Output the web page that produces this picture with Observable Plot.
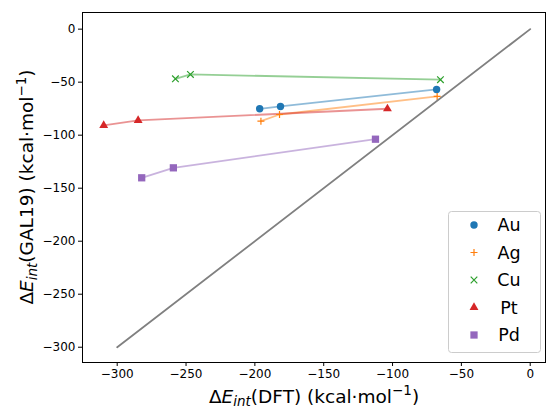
<!DOCTYPE html>
<html><head><meta charset="utf-8">
<script src="https://cdn.jsdelivr.net/npm/d3@7"></script>
<script src="https://cdn.jsdelivr.net/npm/@observablehq/plot@0.6"></script>
<style>body{margin:0;background:#fff} svg{display:block}</style>
</head><body><div id="chart"></div>
<script>
const metals = ["Au", "Ag", "Cu", "Pt", "Pd"];
const colors = ["#1f77b4", "#ff7f0e", "#2ca02c", "#d62728", "#9467bd"];
const symbols = ["circle", "plus", "times", "triangle", "square"];
const radii = [3.7, 2.4, 3.1, 3.3, 4.1];
const dftAu = [-196.5, -181.4, -68.0], galAu = [-75.1, -72.9, -56.9];
const dftAg = [-195.6, -182.1, -67.6], galAg = [-86.8, -80.5, -63.5];
const dftCu = [-257.7, -246.8, -65.2], galCu = [-46.8, -42.7, -47.7];
const dftPt = [-309.8, -284.8, -103.7], galPt = [-90.8, -86.1, -75.1];
const dftPd = [-282.2, -259.2, -112.4], galPd = [-140.2, -130.8, -103.8];
const diagX = [-300, 0], diagY = [-300, 0];
const xTicks = [-300, -250, -200, -150, -100, -50, 0];
const yTicks = [-300, -250, -200, -150, -100, -50, 0];

const dft = [dftAu, dftAg, dftCu, dftPt, dftPd];
const gal = [galAu, galAg, galCu, galPt, galPd];
const strokeSyms = new Set(["plus", "times"]);
const series = metals.map((m, i) => ({
  metal: m, color: colors[i], symbol: symbols[i], r: radii[i],
  data: dft[i].map((x, j) => ({metal: m, x, y: gal[i][j]}))
}));
const diag = diagX.map((x, i) => ({x, y: diagY[i]}));
const fmt = d3.format("d");

const marks = [
  ...series.map(s => Plot.line(s.data, {x: "x", y: "y", stroke: s.color, strokeOpacity: 0.5, strokeWidth: 1.8})),
  ...series.map(s => Plot.dot(s.data, strokeSyms.has(s.symbol)
      ? {x: "x", y: "y", symbol: s.symbol, r: s.r, stroke: s.color, fill: "none", strokeWidth: 1.2}
      : {x: "x", y: "y", symbol: s.symbol, r: s.r, fill: s.color, stroke: "none"})),
  Plot.line(diag, {x: "x", y: "y", stroke: "#808080", strokeWidth: 1.8}),
  Plot.frame({stroke: "black", strokeWidth: 1})
];

const plot = Plot.plot({
  width: 546, height: 408,
  marginLeft: 82, marginRight: 1, marginTop: 12, marginBottom: 46,
  style: {fontFamily: "DejaVu Sans", fontSize: "12px", color: "black", background: "white"},
  x: {domain: [-325.2, 11.1], ticks: xTicks, tickFormat: fmt, label: null, tickSize: 4, tickPadding: 3},
  y: {domain: [-314.4, 15.7], ticks: yTicks, tickFormat: fmt, label: null, tickSize: 4, tickPadding: 3},
  marks
});
document.getElementById("chart").appendChild(plot);

const svg = d3.select(plot);
const ns = "DejaVu Sans";
function fillLabel(t, inner) {
  t.append("tspan").text("Δ");
  t.append("tspan").attr("font-style", "italic").text("E");
  t.append("tspan").attr("font-style", "italic").attr("font-size", 13.5).attr("dy", 3.5).text("int");
  t.append("tspan").attr("dy", -3.5).text("(" + inner + ") (kcal·mol");
  t.append("tspan").attr("font-size", 13.5).attr("dy", -7.5).text("−1");
  t.append("tspan").attr("dy", 7.5).text(")");
}
const xl = svg.append("text").attr("x", 314).attr("y", 402.5).attr("text-anchor", "middle")
  .attr("font-family", ns).attr("font-size", 18.5).attr("fill", "black");
fillLabel(xl, "DFT");
const yl = svg.append("text").attr("transform", "translate(33,187) rotate(-90)").attr("text-anchor", "middle")
  .attr("font-family", ns).attr("font-size", 18.5).attr("fill", "black");
fillLabel(yl, "GAL19");

// legend
const symMap = {circle: d3.symbolCircle, plus: d3.symbolPlus, times: d3.symbolTimes, triangle: d3.symbolTriangle, square: d3.symbolSquare};
const lg = svg.append("g");
lg.append("rect").attr("x", 448.5).attr("y", 211.5).attr("width", 92).attr("height", 141).attr("rx", 3)
  .attr("fill", "white").attr("fill-opacity", 0.8).attr("stroke", "#cccccc").attr("stroke-width", 1);
series.forEach((s, i) => {
  const cy = 225 + i * 27.5;
  const p = lg.append("path").attr("transform", `translate(474,${cy})`)
    .attr("d", d3.symbol(symMap[s.symbol], Math.PI * s.r * s.r)());
  if (strokeSyms.has(s.symbol)) p.attr("fill", "none").attr("stroke", s.color).attr("stroke-width", 1.2);
  else p.attr("fill", s.color);
  lg.append("text").attr("x", 509).attr("y", cy).attr("dy", "0.36em").attr("font-family", ns)
    .attr("font-size", 17.5).attr("fill", "black").text(s.metal);
});
</script>
</body></html>
